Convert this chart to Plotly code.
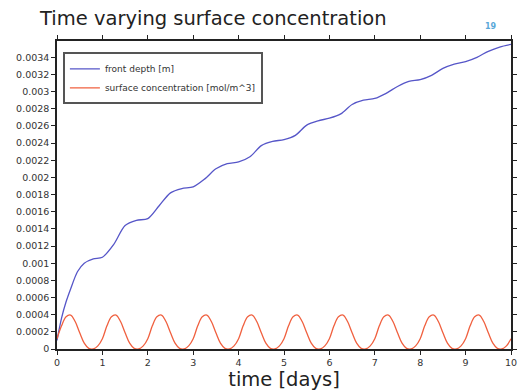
import plotly.graph_objects as go

# ---- data ----
t_depth = [0, 0.1, 0.2, 0.3, 0.45, 0.6, 0.8, 1.0, 1.25, 1.5, 1.75, 2.0, 2.25, 2.5, 2.75, 3.0,
           3.25, 3.5, 3.75, 4.0, 4.25, 4.5, 4.75, 5.0, 5.25, 5.5, 5.75, 6.0,
           6.25, 6.5, 6.75, 7.0, 7.25, 7.5, 7.75, 8.0, 8.25, 8.5, 8.75, 9.0,
           9.25, 9.5, 9.75, 10.0]
front_depth = [0.00010, 0.00036, 0.00055, 0.00070, 0.00090, 0.00100, 0.00105, 0.00107,
               0.00122, 0.00144, 0.00150, 0.00152, 0.00167, 0.00182, 0.00187, 0.00189,
               0.00198, 0.00210, 0.00216, 0.00218, 0.00224, 0.00237, 0.00242, 0.00244,
               0.00249, 0.00261, 0.00266, 0.00269, 0.00274, 0.00285, 0.00290, 0.00292,
               0.00298, 0.00306, 0.00312, 0.00314, 0.00319, 0.00327, 0.00332, 0.00335,
               0.00340, 0.00347, 0.00352, 0.00355]

t_conc = [i / 10 for i in range(101)]
surface_conc = [
    1.2e-4, 2.7e-4, 3.76e-4, 3.96e-4, 3.2e-4, 1.9e-4, 0.69e-4, 0.08e-4, 0.01e-4, 0.36e-4,
    1.2e-4, 2.7e-4, 3.76e-4, 3.96e-4, 3.2e-4, 1.9e-4, 0.69e-4, 0.08e-4, 0.01e-4, 0.36e-4,
    1.2e-4, 2.7e-4, 3.76e-4, 3.96e-4, 3.2e-4, 1.9e-4, 0.69e-4, 0.08e-4, 0.01e-4, 0.36e-4,
    1.2e-4, 2.7e-4, 3.76e-4, 3.96e-4, 3.2e-4, 1.9e-4, 0.69e-4, 0.08e-4, 0.01e-4, 0.36e-4,
    1.2e-4, 2.7e-4, 3.76e-4, 3.96e-4, 3.2e-4, 1.9e-4, 0.69e-4, 0.08e-4, 0.01e-4, 0.36e-4,
    1.2e-4, 2.7e-4, 3.76e-4, 3.96e-4, 3.2e-4, 1.9e-4, 0.69e-4, 0.08e-4, 0.01e-4, 0.36e-4,
    1.2e-4, 2.7e-4, 3.76e-4, 3.96e-4, 3.2e-4, 1.9e-4, 0.69e-4, 0.08e-4, 0.01e-4, 0.36e-4,
    1.2e-4, 2.7e-4, 3.76e-4, 3.96e-4, 3.2e-4, 1.9e-4, 0.69e-4, 0.08e-4, 0.01e-4, 0.36e-4,
    1.2e-4, 2.7e-4, 3.76e-4, 3.96e-4, 3.2e-4, 1.9e-4, 0.69e-4, 0.08e-4, 0.01e-4, 0.36e-4,
    1.2e-4, 2.7e-4, 3.76e-4, 3.96e-4, 3.2e-4, 1.9e-4, 0.69e-4, 0.08e-4, 0.01e-4, 0.36e-4,
    1.2e-4,
]

y_tickvals = [0, 0.0002, 0.0004, 0.0006, 0.0008, 0.001, 0.0012, 0.0014, 0.0016, 0.0018,
              0.002, 0.0022, 0.0024, 0.0026, 0.0028, 0.003, 0.0032, 0.0034]
y_ticktext = ["0", "0.0002", "0.0004", "0.0006", "0.0008", "0.001", "0.0012", "0.0014",
              "0.0016", "0.0018", "0.002", "0.0022", "0.0024", "0.0026", "0.0028", "0.003",
              "0.0032", "0.0034"]
x_tickvals = [0, 1, 2, 3, 4, 5, 6, 7, 8, 9, 10]

fig = go.Figure()
fig.add_trace(go.Scatter(x=t_depth, y=front_depth, mode="lines", name="front depth [m]",
                         line=dict(color="#5656c8", width=1.3, shape="spline", smoothing=0.8)))
fig.add_trace(go.Scatter(x=t_conc, y=surface_conc, mode="lines",
                         name="surface concentration [mol/m^3]",
                         line=dict(color="#f0603f", width=1.3, shape="spline", smoothing=1.0)))

fig.update_layout(
    width=523, height=392,
    margin=dict(l=57, r=6, t=41, b=37),
    paper_bgcolor="white", plot_bgcolor="white",
    font=dict(family="DejaVu Sans", color="#333333", size=9.5),
    title=dict(text="Time varying surface concentration", x=40 / 523, xanchor="left",
               y=1 - 18 / 392, yanchor="middle",
               font=dict(family="DejaVu Sans", size=19.5, color="#222222")),
    showlegend=True,
    legend=dict(x=0.013, y=0.963, xanchor="left", yanchor="top",
                bgcolor="white", bordercolor="#555555", borderwidth=2,
                font=dict(size=9, color="#333333"), tracegroupgap=0,
                itemwidth=30),
    xaxis=dict(range=[0, 10], tickvals=x_tickvals, showgrid=False, zeroline=False,
               showline=True, linecolor="#222222", linewidth=1.5, mirror="ticks",
               ticks="outside", ticklen=4, tickcolor="#222222",
               title=dict(text="time [days]", standoff=4,
                          font=dict(family="DejaVu Sans", size=19.5, color="#222222"))),
    yaxis=dict(range=[0, 0.00359], tickvals=y_tickvals, ticktext=y_ticktext,
               showgrid=False, zeroline=False, showline=True, linecolor="#222222",
               linewidth=1.5, mirror="ticks", ticks="outside", ticklen=4,
               tickcolor="#222222"),
)
fig.add_annotation(text="<b>19</b>", x=0.974, y=1.067, xref="paper", yref="paper",
                   showarrow=False, font=dict(size=8, color="#5aa8d8"))

fig.write_html("out.html")
